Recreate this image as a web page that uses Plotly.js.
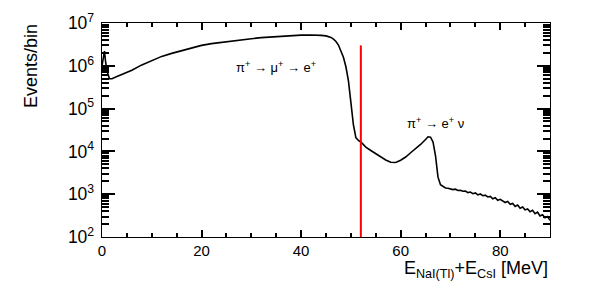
<!DOCTYPE html>
<html>
<head>
<meta charset="utf-8">
<script src="https://cdn.plot.ly/plotly-3.0.1.min.js"></script>
<style>
  html, body { margin: 0; padding: 0; background: #fff; }
  #chart { width: 598px; height: 289px; }
</style>
</head>
<body>
<div id="chart"></div>
<script>
// energy (MeV) and counts per bin
const energy = [
  0, 0.3, 0.5, 0.7, 1.0, 1.5, 2, 3, 4, 5, 6, 8, 10, 12, 14, 16, 18, 20,
  22, 24, 26, 28, 30, 32, 34, 36, 38, 40, 42, 43, 44, 45, 46, 46.5, 47,
  47.5, 48, 48.5, 49, 49.5, 50, 50.5, 51, 51.5, 52, 53, 54, 55, 56, 57,
  58, 59, 60, 61, 62, 63, 64, 65, 65.5, 66, 66.5, 67, 67.5, 68, 68.5, 69,
  69.5, 70, 70.5, 71, 71.5, 72, 72.5, 73, 73.5, 74, 74.5, 75, 75.5, 76,
  76.5, 77, 77.5, 78, 78.5, 79, 79.5, 80, 80.5, 81, 81.5, 82, 82.5, 83,
  83.5, 84, 84.5, 85, 85.5, 86, 86.5, 87, 87.5, 88, 88.5, 89, 89.5, 90
];
const counts = [
  1.0e6, 1.5e6, 2.2e6, 1.3e6, 7.5e5, 5.0e5, 5.0e5, 5.6e5, 6.3e5, 7.1e5,
  7.9e5, 1.05e6, 1.35e6, 1.66e6, 1.95e6, 2.27e6, 2.63e6, 3.0e6,
  3.3e6, 3.55e6, 3.8e6, 4.07e6, 4.3e6, 4.55e6, 4.75e6, 4.95e6, 5.1e6,
  5.2e6, 5.25e6, 5.25e6, 5.15e6, 5.0e6, 4.6e6, 4.2e6, 3.7e6,
  3.05e6, 2.3e6, 1.58e6, 9.5e5, 4.5e5, 1.4e5, 4.2e4, 2.1e4, 1.8e4,
  1.66e4, 1.26e4, 1.05e4, 8.9e3, 7.4e3, 6.3e3,
  5.6e3, 5.5e3, 6.2e3, 7.4e3, 9.3e3, 1.15e4, 1.45e4, 1.9e4, 2.2e4,
  2.15e4, 1.66e4, 7.9e3, 2.5e3, 1.66e3, 1.5e3, 1.4e3,
  1.38e3, 1350, 1280, 1310, 1220, 1240, 1170, 1190, 1090, 1120, 1030,
  1070, 960, 1010, 920, 950, 860, 890, 780, 830, 720, 760, 700, 640,
  680, 580, 610, 520, 560, 470, 500, 430, 450, 390, 420, 350, 380, 310,
  330, 280, 300, 245, 265, 225, 235
];

// selection cut
const cutEnergy = [52, 52];
const cutCounts = [100, 3.0e6];

const font = "Liberation Sans, Arial, sans-serif";

const traces = [
  {
    x: energy,
    y: counts,
    mode: "lines",
    line: { color: "black", width: 1.6 },
  },
  {
    x: cutEnergy,
    y: cutCounts,
    mode: "lines",
    line: { color: "#ff0000", width: 2 },
  },
];

const layout = {
  width: 598,
  height: 289,
  margin: { l: 102, r: 48, t: 23, b: 52 },
  showlegend: false,
  font: { family: font, size: 14, color: "black" },
  xaxis: {
    range: [0, 90],
    gridcolor: "rgba(0,0,0,0)",
    zerolinecolor: "black",
    showline: true,
    linecolor: "black",
    mirror: "ticks",
    ticks: "inside",
    ticklen: 7,
    tickwidth: 2,
    tickcolor: "black",
    dtick: 20,
    minor: { dtick: 5, ticks: "inside", ticklen: 4, tickwidth: 1.5, tickcolor: "black", gridcolor: "rgba(0,0,0,0)" },
    tickfont: { size: 15 },
  },
  yaxis: {
    type: "log",
    range: [2, 7],
    gridcolor: "rgba(0,0,0,0)",
    showline: true,
    linecolor: "black",
    mirror: "ticks",
    ticks: "inside",
    ticklen: 13,
    tickwidth: 2,
    tickcolor: "black",
    dtick: 1,
    exponentformat: "power",
    minor: { ticks: "inside", ticklen: 7, tickwidth: 1.5, tickcolor: "black", gridcolor: "rgba(0,0,0,0)" },
    tickfont: { size: 14 },
    ticklabelstandoff: 4,
  },
  annotations: [
    {
      text: "Events/bin",
      xref: "paper", yref: "paper",
      x: -0.16, y: 0.80,
      xanchor: "center", yanchor: "middle",
      textangle: -90,
      showarrow: false,
      font: { size: 18 },
    },
    {
      text: "E<sub>NaI(Tl)</sub>+E<sub>CsI</sub> [MeV]",
      xref: "paper", yref: "paper",
      x: 1.0, y: -0.15,
      xanchor: "right", yanchor: "middle",
      showarrow: false,
      font: { size: 18 },
    },
    {
      text: "π<sup>+</sup> → μ<sup>+</sup> → e<sup>+</sup>",
      xref: "x", yref: "y",
      x: 34.9, y: 5.97,
      xanchor: "center", yanchor: "middle",
      showarrow: false,
      font: { size: 13 },
    },
    {
      text: "π<sup>+</sup> → e<sup>+</sup> ν",
      xref: "x", yref: "y",
      x: 66.9, y: 4.66,
      xanchor: "center", yanchor: "middle",
      showarrow: false,
      font: { size: 13 },
    },
  ],
};

Plotly.newPlot("chart", traces, layout, { displayModeBar: false });
</script>
</body>
</html>
